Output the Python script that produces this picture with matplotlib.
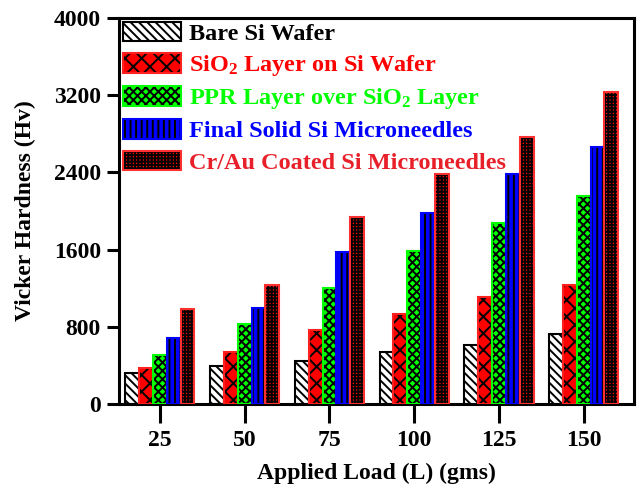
import matplotlib
matplotlib.use("Agg")
import matplotlib.pyplot as plt
import numpy as np
from matplotlib.patches import Patch
from matplotlib.legend_handler import HandlerTuple

plt.rcParams['font.family'] = ['Liberation Serif', 'DejaVu Serif']
plt.rcParams['font.weight'] = 'bold'
plt.rcParams['mathtext.fontset'] = 'custom'
plt.rcParams['mathtext.rm'] = 'Liberation Serif:bold'
plt.rcParams['mathtext.bf'] = 'Liberation Serif:bold'
plt.rcParams['mathtext.it'] = 'Liberation Serif:bold'
plt.rcParams['hatch.linewidth'] = 1.4
plt.rcParams['hatch.color'] = 'black'

loads = ['25', '50', '75', '100', '125', '150']
series_names = ['Bare Si Wafer', 'SiO$_2$ Layer on Si Wafer',
                'PPR Layer over SiO$_2$ Layer', 'Final Solid Si Microneedles',
                'Cr/Au Coated Si Microneedles']
bare = [318, 397, 442, 535, 615, 725]
sio2 = [376, 539, 763, 933, 1112, 1230]
ppr = [505, 826, 1199, 1585, 1872, 2155]
final = [684, 995, 1575, 1983, 2380, 2663]
crau = [981, 1233, 1934, 2383, 2770, 3236]
values = [bare, sio2, ppr, final, crau]

faces = ['white', '#ff0000', '#00ff00', '#0000ff', '#ff0000']
edges = ['black', '#ff2020', '#00ff00', '#0000ff', '#ff3030']
hatches = ['\\\\\\\\', 'xx', 'xxxx', '|||', '+++++']
text_colors = ['black', '#ff0000', '#00ff00', '#0000ff', '#e8202a']

fig = plt.figure(figsize=(6.38, 4.86), dpi=100)
ax = fig.add_axes([119/638, 1-404/486, (634-119)/638, (404-18)/486])

x = np.arange(len(loads))
w = 0.163
handles = []
for i, vals in enumerate(values):
    pos = x + (i - 2) * w
    ax.bar(pos, vals, w, color=faces[i], hatch=hatches[i], edgecolor='black', linewidth=0, zorder=2)
    ax.bar(pos, vals, w, fill=False, edgecolor=edges[i], linewidth=1.5, zorder=3)
    h1 = Patch(facecolor=faces[i], hatch=hatches[i], edgecolor='black', linewidth=0)
    h2 = Patch(fill=False, edgecolor=edges[i], linewidth=1.5)
    handles.append((h1, h2))

ax.set_xlim(-0.483, 5.593)
ax.set_ylim(0, 4000)
ax.set_yticks([0, 800, 1600, 2400, 3200, 4000])
ax.set_xticks(x)
ax.set_xticklabels(loads)
ax.tick_params(axis='y', direction='out', length=9, width=2.2, labelsize=17, pad=4)
ax.tick_params(axis='x', direction='out', length=14, width=2.2, labelsize=17, pad=5)
for s in ax.spines.values():
    s.set_linewidth(2.2)

ax.set_xlabel('Applied Load (L) (gms)', fontsize=17, fontweight='bold', labelpad=8)
ax.set_ylabel('Vicker Hardness (Hv)', fontsize=17, fontweight='bold', labelpad=13)

leg = ax.legend(handles, series_names, handler_map={tuple: HandlerTuple(ndivide=1, pad=0)},
                loc='upper left', bbox_to_anchor=(4/515, 1 - 4/386), frameon=False,
                fontsize=17.5, handlelength=2.4, handleheight=0.85,
                borderaxespad=0, borderpad=0.0, labelspacing=0.33, handletextpad=0.3)
for t, c in zip(leg.get_texts(), text_colors):
    t.set_color(c)
    t.set_fontweight('bold')

fig.savefig('out.png', dpi=100)
